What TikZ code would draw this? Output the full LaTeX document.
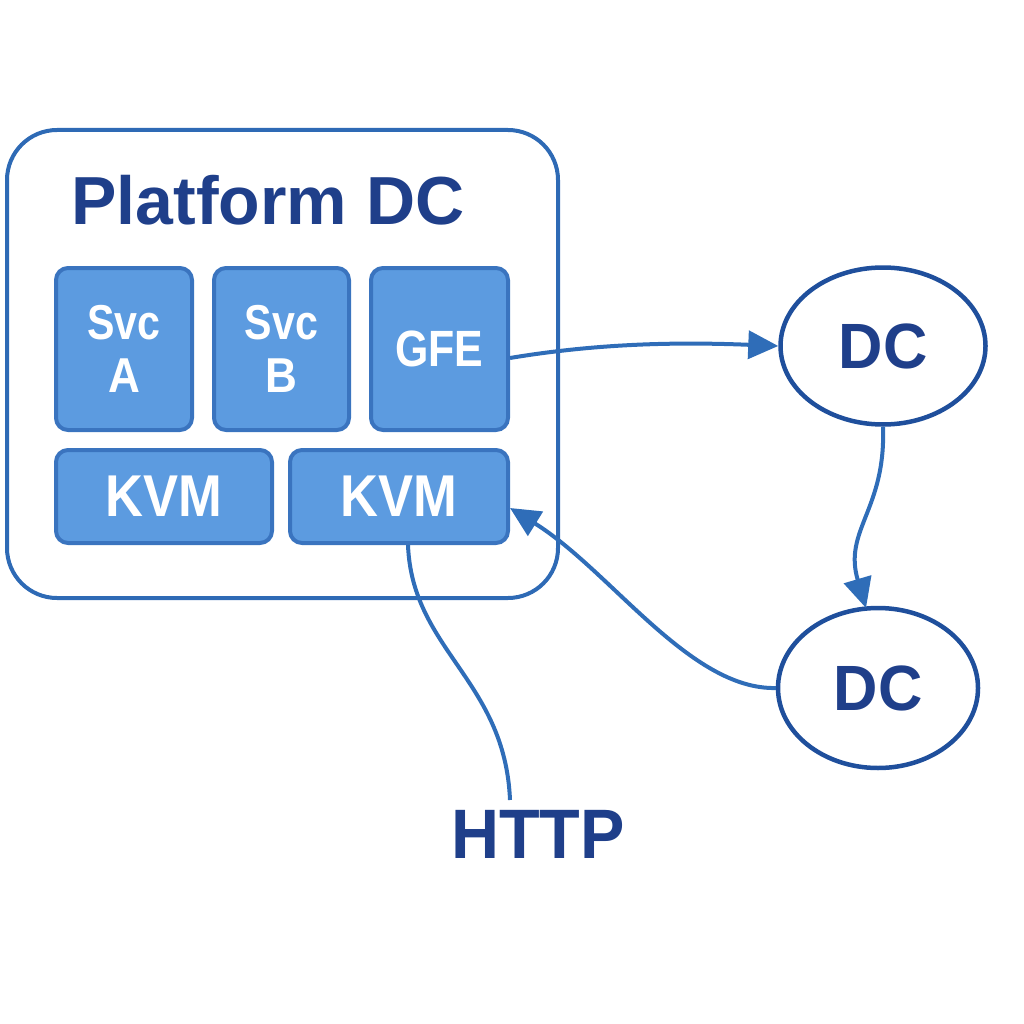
\documentclass[tikz,border=0pt]{standalone}
\usepackage{fontspec}
\setmainfont{Liberation Sans}
\usetikzlibrary{arrows.meta,shapes.geometric}
\definecolor{titleblue}{HTML}{1F3F8A}
\definecolor{boxfill}{HTML}{5C9BE0}
\definecolor{boxline}{HTML}{3A74BF}
\definecolor{frameblue}{HTML}{2E6AB5}
\definecolor{ellline}{HTML}{1F4F9C}
\definecolor{wireblue}{HTML}{2F6DB8}
\tikzset{
  inner/.style={draw=boxline, line width=4pt, fill=boxfill, rounded corners=12pt,
    text=white, inner sep=0pt, align=center},
  dcnode/.style={draw=ellline, line width=4.5pt, ellipse, inner sep=0pt, text=titleblue,
    font=\bfseries\fontsize{64}{70}\selectfont},
  wire/.style={draw=wireblue, line width=4pt},
  tip/.style={-{Triangle[length=30pt,width=28pt]}}
}
\begin{document}
\begin{tikzpicture}[x=1pt,y=-1pt]
\useasboundingbox (0,0) rectangle (1024,1024);
% outer frame
\node[draw=frameblue, line width=4pt, rounded corners=50pt, minimum width=551pt, minimum height=468pt, inner sep=0pt] (frame) at (282.5,364) {};
\node[text=titleblue, font=\bfseries\fontsize{68}{80}\selectfont, anchor=base] (title) at (268,225) {Platform DC};
% inner boxes
\node[inner, minimum width=136pt, minimum height=162pt, font=\bfseries\fontsize{49}{53}\selectfont] (svca) at (124,349) {\scalebox{.84}[1]{Svc}\\\scalebox{.9}[1]{A}};
\node[inner, minimum width=135pt, minimum height=162pt, font=\bfseries\fontsize{49}{53}\selectfont] (svcb) at (281.5,349) {\scalebox{.84}[1]{Svc}\\\scalebox{.9}[1]{B}};
\node[inner, minimum width=137pt, minimum height=162pt, font=\bfseries\fontsize{51}{55}\selectfont] (gfe) at (439.5,349) {\scalebox{.84}[1]{GFE}};
\node[inner, minimum width=216pt, minimum height=93pt, font=\bfseries\fontsize{59}{64}\selectfont] (kvma) at (164,496.5) {\scalebox{.89}[1]{KVM}};
\node[inner, minimum width=218pt, minimum height=93pt, font=\bfseries\fontsize{59}{64}\selectfont] (kvmb) at (399,496.5) {\scalebox{.89}[1]{KVM}};
% DC ellipses
\node[dcnode, minimum width=205pt, minimum height=157pt] (dc1) at (883,346) {\scalebox{.96}[1]{DC}};
\node[dcnode, minimum width=200pt, minimum height=160pt] (dc2) at (878,688) {\scalebox{.96}[1]{DC}};
% HTTP
\node[text=titleblue, font=\bfseries\fontsize{70}{80}\selectfont, anchor=base] (http) at (538,858) {\scalebox{.95}[1]{HTTP}};
\coordinate (httptop) at (510,800);
% connectors
\draw[wire, tip] (gfe.east |- 0,358) .. controls (600,343) and (680,342) .. (dc1.west);
\draw[wire, tip] (dc1.south) .. controls (886,510) and (843,530) .. (866,608);
\draw[wire, tip] (dc2.west) .. controls (690,690) and (610,570) .. (kvmb.east |- 0,508);
\draw[wire] (kvmb.south -| 408,0) .. controls (412,650) and (505,680) .. (httptop);
\end{tikzpicture}
\end{document}
